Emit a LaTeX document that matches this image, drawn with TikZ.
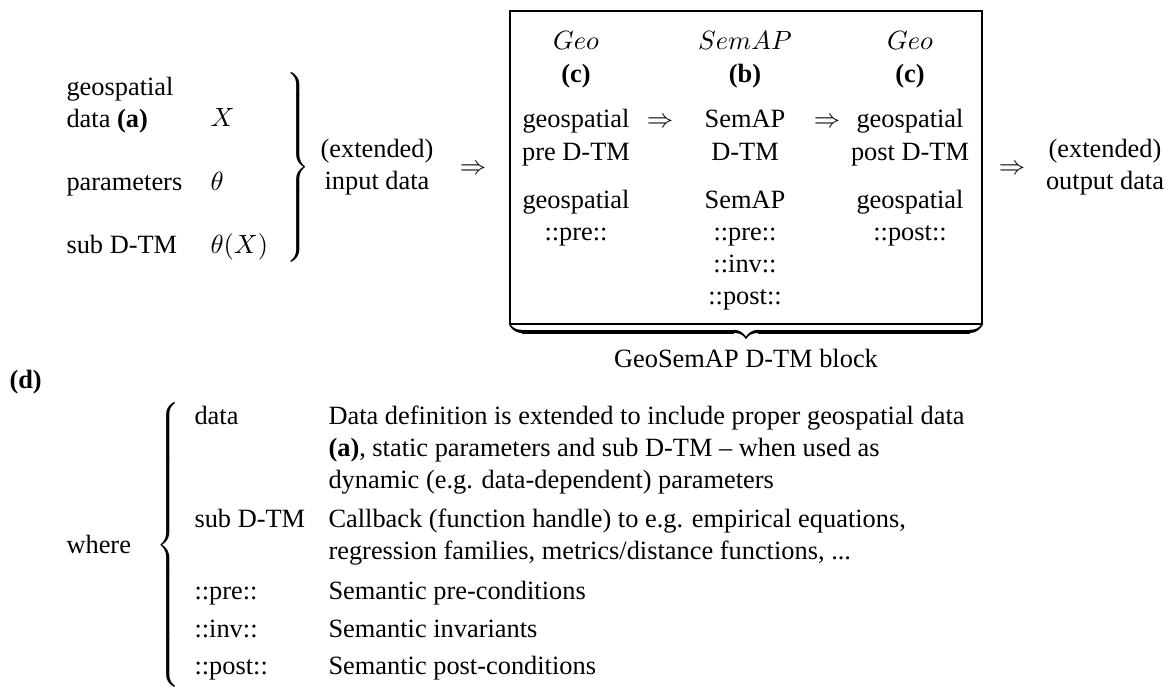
\documentclass[tikz,border=0pt]{standalone}
\usepackage{fontspec}
\setmainfont{Liberation Serif}
\usepackage{amsmath}
\usetikzlibrary{positioning}

% one unit of the picture grid
\newlength\pxlen
\setlength\pxlen{0.379pt}

% stacked cells, baseline on the first line
\renewcommand{\arraystretch}{1.02}
\newcommand{\topc}[1]{\begin{tabular}[t]{@{}c@{}}#1\end{tabular}}
\newcommand{\topl}[1]{\begin{tabular}[t]{@{}l@{}}#1\end{tabular}}
% tall math braces
\newcommand{\closebrace}[1]{$\delimitershortfall=0pt\delimiterfactor=1000\left.\vcenter{\hbox{\rule{0pt}{#1\pxlen}}}\right\}$}
\newcommand{\openbrace}[1]{$\delimitershortfall=0pt\delimiterfactor=1000\left\{\vcenter{\hbox{\rule{0pt}{#1\pxlen}}}\right.$}

\begin{document}
\begin{tikzpicture}
    [
        x=\pxlen, y=-\pxlen,
        txt/.style={inner sep=0pt, anchor=base west},
        ctxt/.style={inner sep=0pt, anchor=base},
        bracenode/.style={inner sep=0pt},
    ]
    \useasboundingbox (0,0) rectangle (1173,686);

    % inputs
    \node [txt] (geodata) at (66,95) {\topl{geospatial\\data \textbf{(a)}}};
    \node [txt] (params) at (66,190) {parameters};
    \node [txt] (subdtm) at (66,253) {sub D-TM};
    \node [txt] (xsym) at (210,127) {$X$};
    \node [txt] (thetasym) at (210,190) {$\theta$};
    \node [txt] (thetax) at (210,253) {$\theta(X)$};
    \node [bracenode, anchor=west] (inbrace) at (283,167) {\closebrace{187}};
    \node [ctxt] (indata) at (377,157) {\topc{(extended)\\input data}};
    \node [ctxt] (implin) at (473,174) {$\Rightarrow$};

    % D-TM block
    \coordinate (blocknw) at (510,11);
    \coordinate (blockse) at (982,324);
    \draw [thin] (blocknw) rectangle (blockse);

    \node [ctxt] (prehead) at (576,50) {$Geo$};
    \node [ctxt] (pretag) [below=12.4pt of prehead.base, anchor=base] {\textbf{(c)}};
    \node [ctxt] (predtm) at (576,128) {\topc{geospatial\\pre D-TM}};
    \node [ctxt] (precond) at (576,208) {\topc{geospatial\\::pre::}};

    \node [ctxt] (semhead) at (745,50) {$SemAP$};
    \node [ctxt] (semtag) [below=12.4pt of semhead.base, anchor=base] {\textbf{(b)}};
    \node [ctxt] (semdtm) at (745,128) {\topc{SemAP\\D-TM}};
    \node [ctxt] (semcond) at (745,208) {\topc{SemAP\\::pre::\\::inv::\\::post::}};

    \node [ctxt] (posthead) at (910,50) {$Geo$};
    \node [ctxt] (posttag) [below=12.4pt of posthead.base, anchor=base] {\textbf{(c)}};
    \node [ctxt] (postdtm) at (910,128) {\topc{geospatial\\post D-TM}};
    \node [ctxt] (postcond) at (910,208) {\topc{geospatial\\::post::}};

    \node [ctxt] (implpre) at (660,128) {$\Rightarrow$};
    \node [ctxt] (implpost) at (827,128) {$\Rightarrow$};

    \node [bracenode, anchor=north] (blockbrace) at (746,322) {$\underbrace{\hbox to 472\pxlen{}}$};
    \node [ctxt] (blocklabel) at (746,367) {GeoSemAP D-TM block};

    % outputs
    \node [ctxt] (implout) at (1012,174) {$\Rightarrow$};
    \node [ctxt] (outdata) at (1105,157) {\topc{(extended)\\output data}};

    % legend
    \node [txt] (dtag) at (9,388) {\textbf{(d)}};
    \node [txt] (where) at (66,553) {where};
    \node [bracenode, anchor=west] (wherebrace) at (156,545) {\openbrace{282}};

    \node [txt] (datakey) at (194,424) {data};
    \node [txt] (datadesc) at (328,424) {\topl{Data definition is extended to include proper geospatial data\\
        \textbf{(a)}, static parameters and sub D-TM -- when used as\\
        dynamic (e.g. data-dependent) parameters}};
    \node [txt] (subkey) at (194,527) {sub D-TM};
    \node [txt] (subdesc) at (328,527) {\topl{Callback (function handle) to e.g. empirical equations,\\
        regression families, metrics/distance functions, ...}};
    \node [txt] (prekey) at (194,599) {::pre::};
    \node [txt] (predesc) at (328,599) {Semantic pre-conditions};
    \node [txt] (invkey) at (194,637) {::inv::};
    \node [txt] (invdesc) at (328,637) {Semantic invariants};
    \node [txt] (postkey) at (194,674) {::post::};
    \node [txt] (postdesc) at (328,674) {Semantic post-conditions};
\end{tikzpicture}
\end{document}
